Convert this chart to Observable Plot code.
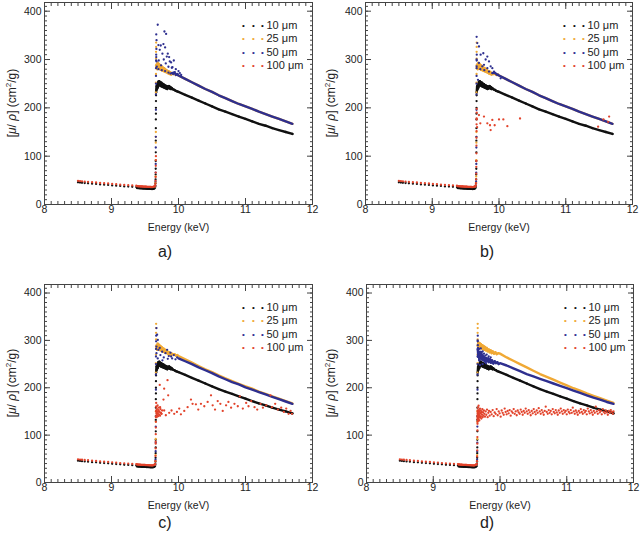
<!DOCTYPE html>
<html><head><meta charset="utf-8">
<script src="https://cdn.jsdelivr.net/npm/d3@7"></script>
<script src="https://cdn.jsdelivr.net/npm/@observablehq/plot@0.6"></script>
<style>
body{margin:0;background:#fff;font-family:"Liberation Sans",Arial,sans-serif;color:#222;}
#wrap{position:relative;width:640px;height:542px;overflow:hidden;}
.panel{position:absolute;}
.ylab{position:absolute;transform:translate(-50%,-50%) rotate(-90deg);white-space:nowrap;font-size:12px;}
.ylab sup{font-size:8px;}
.tag{position:absolute;font-size:16px;transform:translate(-50%,-50%);}
</style></head><body><div id="wrap"></div>
<script>
// ---------- series ----------
const seriesNames = ["10 μm", "25 μm", "50 μm", "100 μm"];
const seriesColors = ["#111111", "#f0a935", "#2e2f8f", "#e2432b"];

// ---------- shared pre-edge (sparse) ----------
const preE   = [8.50,8.53,8.56,8.60,8.65,8.71,8.77,8.83,8.89,8.95,9.01,9.07,9.13,9.19,9.25,9.31,9.37];
const pre10  = [46,45.5,45,44.5,44,43,42.5,41.5,41,40.5,39.5,39,38.5,37.5,37,36.5,36];
const pre100 = [49,48.5,48,47.5,47,46,45.5,44.5,44,43.5,42.5,42,41,40.5,40,39.5,39];

// ---------- shared pre-edge (dense) ----------
const denseE   = [9.38,9.39,9.40,9.41,9.42,9.43,9.44,9.45,9.46,9.47,9.48,9.49,9.50,9.51,9.52,9.53,9.54,9.55,9.56,9.57,9.58,9.59,9.60,9.61,9.62,9.63,9.64,9.65];
const dense10  = [34,34,33.8,33.7,33.6,33.5,33.4,33.3,33.2,33.1,33,33,32.9,32.8,32.7,32.6,32.5,32.5,32.4,32.3,32.2,32.2,32.1,32.1,32.2,32.5,33,34.5];
const dense100 = [38,38,37.8,37.7,37.6,37.5,37.4,37.3,37.2,37.1,37,37,36.9,36.8,36.7,36.6,36.5,36.5,36.4,36.3,36.2,36.2,36.1,36.1,36.3,36.7,37.5,39];

// ---------- edge columns ----------
const edge10 = [[9.650,36],[9.654,39],[9.656,44],[9.658,52],[9.659,62],[9.660,74],[9.660,90],[9.661,108],[9.661,132],[9.662,158],[9.662,176],[9.663,188],[9.663,200],[9.664,214],[9.665,226]];
const edge25 = [[9.652,37],[9.656,45],[9.658,58],[9.660,92],[9.661,128],[9.661,140],[9.662,150],[9.663,232],[9.663,252],[9.664,270],[9.664,288],[9.665,302],[9.665,316],[9.666,326],[9.666,335]];
const edge50 = [[9.653,38],[9.657,48],[9.659,66],[9.660,84],[9.661,118],[9.662,140],[9.663,196],[9.663,228],[9.664,250],[9.664,266],[9.665,282],[9.666,298],[9.667,310]];
const edge100a = [[9.651,39],[9.655,43],[9.657,49],[9.659,57],[9.660,66],[9.661,80],[9.662,92],[9.663,100]];
const edge100b = [[9.651,39],[9.655,44],[9.657,52],[9.659,64],[9.660,78],[9.661,90],[9.662,106],[9.662,122],[9.663,138],[9.664,152],[9.664,166],[9.665,178],[9.666,190],[9.667,198]];
const edge100c = [[9.651,39],[9.655,45],[9.657,56],[9.659,72],[9.660,86],[9.661,102],[9.662,116],[9.663,128],[9.664,138],[9.665,150],[9.666,160],[9.667,168],[9.660,82]];
const edge100d = [[9.651,39],[9.655,45],[9.657,55],[9.659,68],[9.660,82],[9.661,96],[9.662,110],[9.663,124],[9.664,134],[9.665,142],[9.666,150]];

// ---------- near-edge structure ----------
const near10 = [[9.666,232],[9.672,245],[9.678,238],[9.685,250],[9.692,242],[9.699,254],[9.706,246],[9.713,255],[9.720,247],[9.728,253],[9.736,245],[9.744,252],[9.752,244],[9.760,250],[9.768,243],[9.776,249],[9.784,242],[9.792,247],[9.800,241],[9.808,246],[9.816,240],[9.824,245],[9.832,239],[9.840,244],[9.850,241],[9.860,245],[9.870,240],[9.880,243],[9.890,239],[9.900,241],[9.920,238],[9.940,237],[9.960,235],[9.980,234]];
const near25 = [[9.668,282],[9.675,290],[9.682,280],[9.690,293],[9.698,283],[9.706,291],[9.714,281],[9.722,289],[9.730,279],[9.738,287],[9.746,278],[9.754,285],[9.762,277],[9.770,283],[9.778,276],[9.786,282],[9.794,275],[9.802,280],[9.810,274],[9.820,278],[9.830,273],[9.840,276],[9.850,271],[9.860,275],[9.870,270],[9.880,273],[9.890,269],[9.900,272],[9.920,270],[9.940,271],[9.960,268],[9.980,269]];
const near25d = [[9.668,290],[9.675,296],[9.685,287],[9.695,294],[9.705,285],[9.715,292],[9.725,283],[9.735,290],[9.745,282],[9.755,288],[9.765,280],[9.775,286],[9.785,279],[9.800,284],[9.815,277],[9.830,281],[9.845,275],[9.860,279],[9.875,273],[9.890,277],[9.910,272],[9.930,275],[9.950,271],[9.975,273]];
const near50ab = [[9.900,272],[9.930,273],[9.960,270],[9.980,269]];
const near50d = [[9.668,280],[9.675,265],[9.682,275],[9.690,258],[9.700,270],[9.710,262],[9.720,275],[9.730,260],[9.740,268],[9.750,258],[9.760,265],[9.775,255],[9.790,263],[9.805,256],[9.820,262],[9.835,254],[9.850,260],[9.865,253],[9.880,258],[9.900,251],[9.920,256],[9.940,252],[9.960,254],[9.980,250]];

// ---------- smooth tails ----------
const tailE   = [10.0,10.1,10.2,10.3,10.4,10.5,10.6,10.7,10.8,10.9,11.0,11.1,11.2,11.3,11.4,11.5,11.6,11.7];
const tail10  = [233,227,221,215,209,203,197,192,187,182,177,172,167,163,158,154,150,146];
const tail25  = [267,260,253,246,239,233,226,220,214,208,203,198,192,187,182,177,172,167];
const tail50c = [262,256,250,243,237,231,224,218,212,207,201,196,191,186,181,176,171,166];
const tail25d = [272,264,257,250,243,236,229,223,217,211,205,199,194,188,183,178,173,168];
const tail50d = [252,247,241,235,229,224,219,214,209,204,199,194,189,184,179,175,170,166];

// ---------- scattered points ----------
const scat50a = [[9.668,352],[9.672,340],[9.690,372],[9.670,322],[9.668,305],[9.672,296],[9.676,285],[9.700,330],[9.705,298],[9.720,320],[9.735,329],[9.740,288],[9.760,312],[9.775,332],[9.780,300],[9.790,358],[9.800,325],[9.810,292],[9.815,353],[9.825,306],[9.840,312],[9.850,285],[9.860,305],[9.870,296],[9.890,294],[9.900,283],[9.910,284],[9.930,298],[9.945,274],[9.960,280],[9.985,270],[10.00,276],[10.02,272],[10.04,268],[9.700,280],[9.750,278],[9.800,276],[9.850,273],[9.880,271],[9.920,270],[9.960,268]];
const scat50b = [[9.665,347],[9.675,334],[9.700,327],[9.725,310],[9.765,313],[9.800,300],[9.825,306],[9.850,296],[9.875,286],[9.900,282],[9.925,275],[9.975,268],[10.025,261],[9.665,300],[9.665,286],[9.685,258],[9.700,293],[9.750,286],[9.775,289],[9.825,282],[9.850,275],[9.720,280],[9.780,278]];
const scat50c = [[9.671,326],[9.681,312],[9.691,301],[9.671,287],[9.671,273],[9.700,280],[9.730,269],[9.756,276],[9.780,264],[9.806,273],[9.830,280],[9.855,267],[9.880,274],[9.905,262],[9.930,269],[9.955,260],[9.980,264],[9.690,262],[9.720,284],[9.760,258],[9.840,261],[9.890,266]];
const scat50d = [[9.666,300],[9.668,290],[9.670,284],[9.674,276],[9.680,268],[9.688,282],[9.700,276],[9.712,283],[9.725,270],[9.740,277],[9.760,272],[9.780,268],[9.800,270],[9.830,266],[9.860,264],[9.700,248],[9.740,250],[9.790,252]];

const scat100b = [[9.668,176],[9.672,160],[9.700,185],[9.720,168],[9.775,182],[9.825,168],[9.865,164],[9.875,154],[9.900,175],[9.935,164],[10.000,176],[10.065,176],[10.125,162],[10.315,178],[11.485,161],[11.565,176],[11.635,171],[11.650,182]];

const scat100c = [[9.667,140],[9.668,152],[9.670,145],[9.672,160],[9.674,138],[9.676,148],[9.679,155],[9.682,142],[9.685,150],[9.688,163],[9.692,146],[9.696,140],[9.700,153],[9.705,158],[9.710,144],[9.715,150],[9.720,206],[9.725,141],[9.730,155],[9.738,147],[9.746,145],[9.755,152],
 [9.836,216],[9.786,198],[9.846,184],[9.776,175],[9.726,159],[9.711,149],[9.746,145],[9.786,152],[9.811,142],[9.861,147],[9.896,152],[9.936,145],[9.976,149],[10.011,156],[10.036,144],[10.086,151],[10.136,159],[10.186,175],[10.210,166],[10.260,165],[10.295,154],[10.335,166],[10.385,161],[10.435,170],[10.485,184],[10.510,163],[10.545,154],[10.585,172],[10.625,166],[10.660,151],[10.710,163],[10.745,170],[10.785,158],[10.835,166],[10.885,161],[10.915,182],[10.960,156],[11.010,168],[11.045,161],[11.085,172],[11.135,159],[11.175,154],[11.225,166],[11.260,158],[11.310,163],[11.373,184],[11.393,159],[11.443,166],[11.483,154],[11.533,158],[11.573,149],[11.608,156],[11.643,145],[11.673,151],[11.693,145]];

const scat100d = [[9.662,128],[9.663,138],[9.664,146],[9.665,152],[9.666,133],[9.667,141],[9.668,158],[9.669,136],[9.670,147],[9.672,130],[9.673,143],[9.675,151],[9.677,138],[9.679,162],[9.681,134],[9.683,145],[9.685,153],[9.688,140],[9.690,131],[9.693,149],[9.696,142],[9.699,156],[9.702,137],[9.705,146],[9.709,152],[9.713,139],[9.717,147],[9.721,135],[9.725,150],[9.730,143],[9.735,155],[9.740,138],[9.746,148],[9.752,141],[9.758,152],
 [9.765,145],[9.775,139],[9.785,150],[9.795,143],[9.805,154],[9.815,138],[9.825,147],[9.835,151],[9.845,141],[9.860,149],[9.875,144],[9.890,153],[9.905,140],[9.920,148],[9.935,145],[9.950,155],[9.965,142],[9.980,150],[9.995,146],[10.010,139],[10.025,152],[10.040,147],[10.055,143],[10.070,156],[10.085,149],[10.100,144],[10.115,151],[10.130,146],[10.145,153],[10.160,141],[10.175,150],[10.190,147],[10.205,155],[10.220,145],[10.235,150],[10.250,142],[10.265,152],[10.280,148],[10.295,145],[10.310,154],[10.325,149],[10.340,143],[10.355,151],[10.370,147],[10.385,156],[10.400,150],[10.415,145],[10.430,153],[10.445,148],[10.460,142],[10.475,151],[10.490,146],[10.505,155],[10.520,149],[10.535,144],[10.550,152],[10.565,147],[10.580,157],[10.595,150],[10.610,145],[10.625,153],[10.640,148],[10.655,143],[10.670,151],[10.685,160],[10.700,149],[10.715,145],[10.730,153],[10.745,147],[10.760,151],[10.775,144],[10.790,155],[10.805,149],[10.820,146],[10.835,153],[10.850,148],[10.865,143],[10.880,152],[10.895,147],[10.910,156],[10.925,150],[10.940,145],[10.955,153],[10.970,148],[10.985,151],[11.000,144],[11.015,154],[11.030,149],[11.045,146],[11.060,153],[11.075,147],[11.090,158],[11.105,150],[11.120,145],[11.135,152],[11.150,148],[11.165,143],[11.180,151],[11.195,147],[11.210,155],[11.225,149],[11.240,145],[11.255,153],[11.270,148],[11.285,151],[11.300,144],[11.315,156],[11.330,150],[11.345,146],[11.360,153],[11.375,148],[11.390,143],[11.405,151],[11.420,147],[11.435,160],[11.450,150],[11.465,145],[11.480,153],[11.495,148],[11.510,151],[11.525,144],[11.540,155],[11.555,149],[11.570,146],[11.585,152],[11.600,148],[11.615,143],[11.630,151],[11.645,147],[11.660,153],[11.675,149],[11.690,145],[11.700,150]];

// ---------- axes ticks ----------
const xMajor = [8, 9, 10, 11, 12];
const yMajor = [0, 100, 200, 300, 400];
const panelTags = ["a)", "b)", "c)", "d)"];

// ---------- helpers ----------
const zip = (E, V) => E.map((e, i) => ({e, v: V[i]}));
const pairs = P => P.map(([e, v]) => ({e, v}));

const pre10Pts = zip(preE, pre10).concat(zip(denseE, dense10));
const pre100Pts = zip(preE, pre100).concat(zip(denseE, dense100));

const panels = [
  {left: 0, top: 0, ml: 44, mr: 8, mt: 2, tagX: 165, tagY: 252, ylx: 11,
   s25: {dots: pairs(edge25).concat(pairs(near25)), line: pairs(near25).concat(zip(tailE, tail25))},
   s50: {dots: pairs(edge50).concat(pairs(scat50a)), line: pairs(near50ab).concat(zip(tailE, tail25))},
   s100: pre100Pts.concat(pairs(edge100a))},
  {left: 320, top: 0, ml: 45, mr: 8, mt: 2, tagX: 487, tagY: 252, ylx: 330,
   s25: {dots: pairs(edge25).concat(pairs(near25)), line: pairs(near25).concat(zip(tailE, tail25))},
   s50: {dots: pairs(edge50).concat(pairs(scat50b)), line: pairs(near50ab).concat(zip(tailE, tail25))},
   s100: pre100Pts.concat(pairs(edge100b), pairs(scat100b))},
  {left: 0, top: 278, ml: 44, mr: 8, mt: 6, tagX: 165, tagY: 523, ylx: 11,
   s25: {dots: pairs(edge25).concat(pairs(near25)), line: pairs(near25).concat(zip(tailE, tail25))},
   s50: {dots: pairs(edge50).concat(pairs(scat50c)), line: zip(tailE, tail50c)},
   s100: pre100Pts.concat(pairs(edge100c), pairs(scat100c))},
  {left: 320, top: 278, ml: 46, mr: 7, mt: 6, tagX: 487, tagY: 523, ylx: 330,
   s25: {dots: pairs(edge25).concat(pairs(near25d)), line: pairs(near25d).concat(zip(tailE, tail25d))},
   s50: {dots: pairs(edge50).concat(pairs(scat50d), pairs(near50d)), line: pairs(near50d).concat(zip(tailE, tail50d))},
   s100: pre100Pts.concat(pairs(edge100d), pairs(scat100d))}
];

const wrap = document.getElementById("wrap");
const W = 320, H = 233, MB = 29;
const axisColor = "#444";
const xMinor = d3.range(80, 121).map(d => d / 10);
const yMinor = d3.range(0, 420, 10);

panels.forEach((p, k) => {
  const black10 = {dots: pre10Pts.concat(pairs(edge10), pairs(near10), zip(tailE, tail10)), line: pairs(near10).concat(zip(tailE, tail10))};
  const lw = 2.4, r = 1.15;
  const marks = [
    Plot.axisX(xMinor, {anchor: "bottom", tickSize: -3, fill: "none", stroke: axisColor, label: null}),
    Plot.axisX(xMinor, {anchor: "top", tickSize: -3, fill: "none", stroke: axisColor, label: null}),
    Plot.axisX(xMajor, {anchor: "bottom", tickSize: -6, tickPadding: 7, stroke: axisColor, fill: "#222", fontSize: 10.5,
      label: "Energy (keV)", labelAnchor: "center", labelArrow: "none", tickFormat: d => String(d)}),
    Plot.axisX(xMajor, {anchor: "top", tickSize: -6, fill: "none", stroke: axisColor, label: null}),
    Plot.axisY(yMinor, {anchor: "left", tickSize: -3, fill: "none", stroke: axisColor, label: null}),
    Plot.axisY(yMinor, {anchor: "right", tickSize: -3, fill: "none", stroke: axisColor, label: null}),
    Plot.axisY(yMajor, {anchor: "left", tickSize: -6, tickPadding: 9, stroke: axisColor, fill: "#222", fontSize: 10.5, label: null, tickFormat: d => String(d)}),
    Plot.axisY(yMajor, {anchor: "right", tickSize: -6, fill: "none", stroke: axisColor, label: null}),
    Plot.frame({stroke: axisColor}),
    // 10 um
    Plot.line(black10.line, {x: "e", y: "v", stroke: seriesColors[0], strokeWidth: lw}),
    Plot.dot(black10.dots, {x: "e", y: "v", r, fill: seriesColors[0]}),
    // 25 um
    Plot.line(p.s25.line, {x: "e", y: "v", stroke: seriesColors[1], strokeWidth: lw}),
    Plot.dot(p.s25.dots, {x: "e", y: "v", r, fill: seriesColors[1]}),
    // 50 um
    Plot.line(p.s50.line, {x: "e", y: "v", stroke: seriesColors[2], strokeWidth: lw}),
    Plot.dot(p.s50.dots, {x: "e", y: "v", r, fill: seriesColors[2]}),
    // 100 um
    Plot.dot(p.s100, {x: "e", y: "v", r, fill: seriesColors[3]})
  ];
  // legend
  seriesNames.forEach((name, i) => {
    const dy = 23 + 13.4 * i;
    [199, 209, 218].forEach(dx => {
      marks.push(Plot.text(["•"], {text: d => d, frameAnchor: "top-left", dx, dy, fill: seriesColors[i], fontSize: 8, textAnchor: "middle", lineAnchor: "middle"}));
    });
    marks.push(Plot.text([name], {text: d => d, frameAnchor: "top-left", dx: 222, dy, fill: "#222", fontSize: 11, textAnchor: "start", lineAnchor: "middle"}));
  });

  const chart = Plot.plot({
    width: W, height: H,
    marginLeft: p.ml, marginRight: p.mr, marginTop: p.mt, marginBottom: MB,
    x: {domain: [8, 12]},
    y: {domain: [0, 418]},
    style: {fontFamily: "'Liberation Sans', Arial, sans-serif", fontSize: "11px", color: "#222", background: "transparent"},
    marks
  });
  const div = document.createElement("div");
  div.className = "panel";
  div.style.left = p.left + "px";
  div.style.top = p.top + "px";
  div.appendChild(chart);
  wrap.appendChild(div);

  const yl = document.createElement("div");
  yl.className = "ylab";
  yl.innerHTML = "[<i>μ</i>/ <i>ρ</i>] (cm<sup>2</sup>/g)";
  yl.style.left = p.ylx + "px";
  yl.style.top = (p.top + (p.mt + H - MB) / 2) + "px";
  wrap.appendChild(yl);

  const tag = document.createElement("div");
  tag.className = "tag";
  tag.textContent = panelTags[k];
  tag.style.left = p.tagX + "px";
  tag.style.top = p.tagY + "px";
  wrap.appendChild(tag);
});
</script>
</body></html>
